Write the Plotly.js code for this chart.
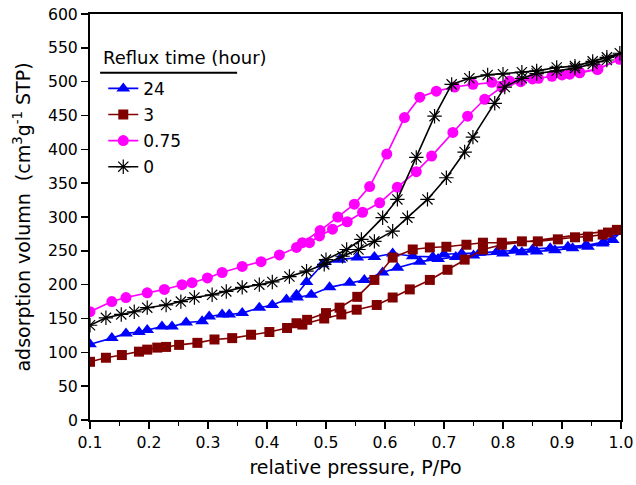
<!DOCTYPE html>
<html>
<head>
<meta charset="utf-8">
<script src="https://cdn.plot.ly/plotly-3.0.1.min.js"></script>
<style>html,body{margin:0;padding:0;background:#fff}#chart{width:636px;height:485px}</style>
</head>
<body>
<div id="chart"></div>
<script>
// Series labels (reflux time, hours)
const seriesNames = ["24", "3", "0.75", "0"];
const legendTitle = "Reflux time (hour)";

// 24 h — adsorption then desorption branch
const x24Ads = [0.1,0.137,0.161,0.183,0.197,0.222,0.239,0.263,0.29,0.302,0.324,0.336,0.358,0.387,0.409,0.433,0.451,0.475,0.506,0.54,0.565,0.596,0.621,0.659,0.69,0.72,0.75,0.8,0.832,0.857,0.888,0.918,0.944,0.969,0.986,1.0];
const y24Ads = [112,121,128,130,133,138,138,144,146,153,156,156,158,166,170,178,181,185,196,203,207,218,225,234,238,241,243,246,248,249,251,254,256,261,266,278];
const x24Des = [0.97,0.94,0.91,0.88,0.85,0.82,0.79,0.76,0.73,0.7,0.681,0.647,0.613,0.582,0.553,0.523,0.494,0.467,0.45];
const y24Des = [263,258,256,254,252,251,249,247,246,245,241,242,246,241,240,237,230,204,185];

// 3 h
const x3Ads = [0.1,0.127,0.154,0.183,0.197,0.214,0.229,0.251,0.282,0.311,0.341,0.373,0.404,0.434,0.46,0.497,0.526,0.552,0.586,0.613,0.642,0.676,0.706,0.735,0.766,0.798];
const y3Ads = [86,92,96,101,104,107,108,111,114,119,121,126,130,136,141,150,156,163,170,181,193,207,222,237,252,259];
const x3Des = [0.993,0.978,0.969,0.944,0.922,0.893,0.859,0.832,0.798,0.766,0.738,0.704,0.676,0.647,0.613,0.582,0.553,0.523,0.5,0.468,0.45];
const y3Des = [281,277,274,271,270,267,264,264,262,262,259,256,255,252,240,207,182,166,158,148,143];

// 0.75 h
const x075Ads = [0.1,0.137,0.161,0.197,0.226,0.256,0.273,0.299,0.324,0.358,0.39,0.421,0.45,0.472,0.489,0.511,0.536,0.562,0.591,0.621,0.653,0.679,0.715,0.74,0.769,0.798,0.83,0.86,0.9,0.93,0.96,0.998];
const y075Ads = [160,175,181,188,193,200,203,210,218,227,234,244,255,262,272,282,293,307,321,344,367,390,425,449,474,492,500,505,510,513,518,533];
const x075Des = [0.961,0.93,0.913,0.883,0.85,0.811,0.781,0.749,0.718,0.687,0.659,0.633,0.603,0.574,0.548,0.52,0.49,0.46];
const y075Des = [519,514,511,508,504,501,499,496,492,486,477,447,393,345,319,300,280,262];

// 0 h
const x0Ads = [0.1,0.127,0.153,0.175,0.197,0.229,0.254,0.277,0.307,0.331,0.358,0.387,0.409,0.438,0.467,0.497,0.528,0.555,0.582,0.613,0.638,0.672,0.704,0.735,0.749,0.786,0.803,0.832,0.857,0.891,0.922,0.952,0.976,0.998];
const y0Ads = [140,151,156,160,166,170,175,181,185,190,196,200,204,212,220,230,242,252,264,279,299,326,358,396,418,468,492,505,512,516,520,526,532,542];
const x0Des = [0.976,0.952,0.922,0.891,0.857,0.832,0.8,0.774,0.743,0.713,0.684,0.653,0.621,0.596,0.56,0.535,0.5];
const y0Des = [536,530,523,521,516,514,511,510,505,496,449,388,326,299,267,252,237];

// Axis ticks
const xTickVals = [0.1,0.2,0.3,0.4,0.5,0.6,0.7,0.8,0.9,1.0];
const yTickVals = [0,50,100,150,200,250,300,350,400,450,500,550,600];

const styles = [
  {color:"#0000ff", symbol:"triangle-up", size:12, lw:0},
  {color:"#800000", symbol:"square", size:10, lw:0},
  {color:"#ff00ff", symbol:"circle", size:11, lw:0},
  {color:"#000000", symbol:"asterisk-open", size:12, lw:1.2}
];
const xs = [x24Ads.concat(x24Des), x3Ads.concat(x3Des), x075Ads.concat(x075Des), x0Ads.concat(x0Des)];
const ys = [y24Ads.concat(y24Des), y3Ads.concat(y3Des), y075Ads.concat(y075Des), y0Ads.concat(y0Des)];

const traces = seriesNames.map((name, i) => ({
  type: "scatter", mode: "lines+markers", name: name, legendgroup: "g" + i,
  x: xs[i], y: ys[i],
  line: {color: styles[i].color, width: 1.6},
  marker: {symbol: styles[i].symbol, size: styles[i].size, color: styles[i].color,
           line: {color: styles[i].color, width: styles[i].lw}}
}));

const font = "DejaVu Sans, Liberation Sans, Arial, sans-serif";
const layout = {
  width: 636, height: 485,
  margin: {l: 90, r: 15, t: 14, b: 65},
  paper_bgcolor: "#fff", plot_bgcolor: "#fff",
  font: {family: font, color: "#000", size: 15},
  showlegend: true,
  legend: {
    x: 0.025, y: 0.86, xanchor: "left", yanchor: "top",
    bgcolor: "rgba(0,0,0,0)",
    font: {size: 17, family: font},
    traceorder: "grouped", tracegroupgap: 1, itemwidth: 30
  },
  annotations: [
    {text: legendTitle, xref: "paper", yref: "paper", x: 0.021, y: 0.892,
     xanchor: "left", yanchor: "middle", showarrow: false, font: {size: 18, family: font}}
  ],
  xaxis: {
    range: [0.1, 1.0], tickvals: xTickVals, tickformat: ".1f",
    ticks: "outside", ticklen: 7, tickwidth: 1.5, tickcolor: "#000",
    minor: {dtick: 0.05, tick0: 0.1, ticks: "outside", ticklen: 4, tickcolor: "#000", tickwidth: 1.2},
    showline: true, linecolor: "#000", linewidth: 2, mirror: true,
    showgrid: false, zeroline: false,
    tickfont: {size: 15.7},
    title: {text: "relative pressure, P/Po", font: {size: 19}, standoff: 10}
  },
  yaxis: {
    range: [0, 600], tickvals: yTickVals,
    ticks: "outside", ticklen: 7, tickwidth: 1.5, tickcolor: "#000",
    showline: true, linecolor: "#000", linewidth: 2, mirror: true,
    showgrid: false, zeroline: false,
    tickfont: {size: 15.7},
    title: {text: "adsorption volumn  (cm<sup>3</sup>g<sup>-1</sup> STP)", font: {size: 19}, standoff: 12}
  },
  shapes: [
    {type: "line", xref: "paper", yref: "paper", x0: 0.019, x1: 0.277, y0: 0.855, y1: 0.855,
     line: {color: "#000", width: 2}}
  ]
};
Plotly.newPlot("chart", traces, layout, {displayModeBar: false, staticPlot: true});
</script>
</body>
</html>
